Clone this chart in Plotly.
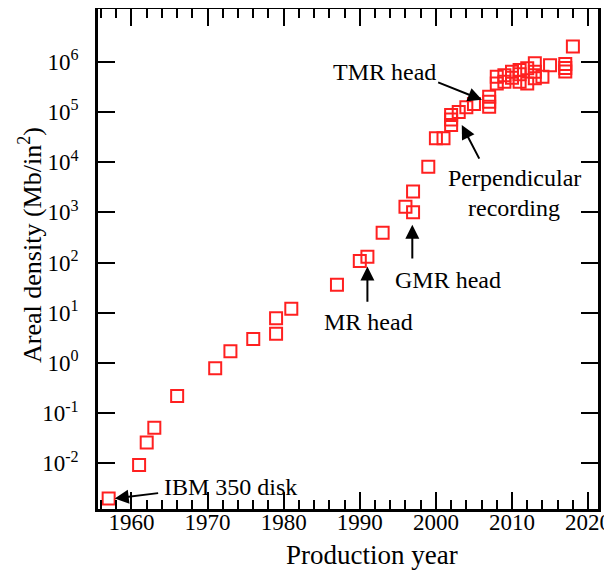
import plotly.graph_objects as go

# ---- data ----
years = [1957, 1961, 1962, 1963, 1966, 1971, 1973, 1976, 1979, 1979, 1981,
         1987, 1990, 1991, 1993, 1996, 1997, 1997, 1999, 2000, 2001,
         2002, 2002, 2002, 2003, 2004, 2005, 2007, 2007, 2007,
         2008, 2008, 2009, 2009, 2010, 2010, 2011, 2011, 2011, 2012, 2012,
         2013, 2013, 2013, 2014, 2015, 2017, 2017, 2017, 2018]
density = [0.002, 0.0093, 0.026, 0.051, 0.22, 0.78, 1.7, 3.0, 3.8, 7.8, 12,
           36, 107, 131, 390, 1290, 1000, 2600, 8100, 30000, 30000,
           87000, 71000, 55000, 100000, 124000, 143000, 200000, 160000, 126000,
           370000, 500000, 540000, 400000, 630000, 480000, 680000, 400000, 560000, 740000, 370000,
           930000, 630000, 470000, 500000, 850000, 900000, 750000, 640000, 2000000]

xtick_vals = [1960, 1970, 1980, 1990, 2000, 2010, 2020]
xtick_text = ["1960", "1970", "1980", "1990", "2000", "2010", "2020"]
ytick_vals = [1e-2, 1e-1, 1e0, 1e1, 1e2, 1e3, 1e4, 1e5, 1e6]
ytick_text = ["10<sup>-2</sup>", "10<sup>-1</sup>", "10<sup>0</sup>", "10<sup>1</sup>",
              "10<sup>2</sup>", "10<sup>3</sup>", "10<sup>4</sup>", "10<sup>5</sup>",
              "10<sup>6</sup>"]
x_title = "Production year"
y_title = "Areal density (Mb/in<sup>2</sup>)"

FONT = "Times New Roman, Liberation Serif, DejaVu Serif, serif"
RED = "#ff2020"

fig = go.Figure()
fig.add_trace(go.Scatter(
    x=years, y=density, mode="markers",
    marker=dict(symbol="square-open", size=12, color=RED, line=dict(width=2, color=RED)),
    showlegend=False, hoverinfo="skip"))

# arrows (tip x, tip log10 y, tail x, tail log10 y)
arrows = [
    (1957.8, -2.70, 1963.7, -2.59),
    (1991.0, 1.92, 1991.0, 1.19),
    (1996.9, 2.75, 1996.9, 2.05),
    (2006.05, 5.24, 2000.1, 5.60),
    (2003.4, 4.74, 2005.8, 4.04),
]
for tx, ty, sx, sy in arrows:
    fig.add_annotation(x=tx, y=ty, ax=sx, ay=sy, xref="x", yref="y", axref="x", ayref="y",
                       text="", showarrow=True, arrowhead=2, arrowsize=1.4, arrowwidth=2,
                       arrowcolor="black")

labels = [
    ("IBM 350 disk", 1964.0, -2.47, "left"),
    ("MR head", 1991.2, 0.815, "center"),
    ("GMR head", 2001.55, 1.65, "center"),
    ("TMR head", 1993.3, 5.79, "center"),
    ("Perpendicular", 2010.3, 3.68, "center"),
    ("recording", 2010.3, 3.08, "center"),
]
for t, x, y, anc in labels:
    fig.add_annotation(x=x, y=y, xref="x", yref="y", text=t, showarrow=False,
                       xanchor=anc, yanchor="middle",
                       font=dict(family=FONT, size=24, color="black"))

# axis titles
fig.add_annotation(x=1991.6, y=0, xref="x", yref="paper", yshift=-46,
                   text=x_title, showarrow=False, xanchor="center", yanchor="middle",
                   font=dict(family=FONT, size=27, color="black"))
fig.add_annotation(x=0, y=2.35, xref="paper", yref="y", xshift=-67,
                   text=y_title, showarrow=False, textangle=-90,
                   xanchor="center", yanchor="middle",
                   font=dict(family=FONT, size=26, color="black"))

fig.update_xaxes(
    range=[1955.6, 2021.3], tickvals=xtick_vals, ticktext=xtick_text,
    ticks="inside", ticklen=17, tickwidth=2, tickcolor="black",
    minor=dict(dtick=2, tick0=1960, ticks="inside", ticklen=9, tickwidth=2, tickcolor="black"),
    showline=True, linewidth=2.5, linecolor="black", mirror="ticks",
    showgrid=False, zeroline=False, automargin=False,
    tickfont=dict(family=FONT, size=23, color="black"), ticklabelstandoff=-9,
)
fig.update_yaxes(
    type="log", range=[-2.91, 7.05], tickvals=ytick_vals, ticktext=ytick_text,
    ticks="inside", ticklen=17, tickwidth=2, tickcolor="black",
    showline=True, linewidth=2.5, linecolor="black", mirror="ticks",
    showgrid=False, zeroline=False, automargin=False,
    tickfont=dict(family=FONT, size=23, color="black"), ticklabelstandoff=12,
)
fig.update_layout(
    width=612, height=571,
    margin=dict(l=90, r=22, t=1, b=70),
    plot_bgcolor="white", paper_bgcolor="white",
)
fig.write_html("out.html")
